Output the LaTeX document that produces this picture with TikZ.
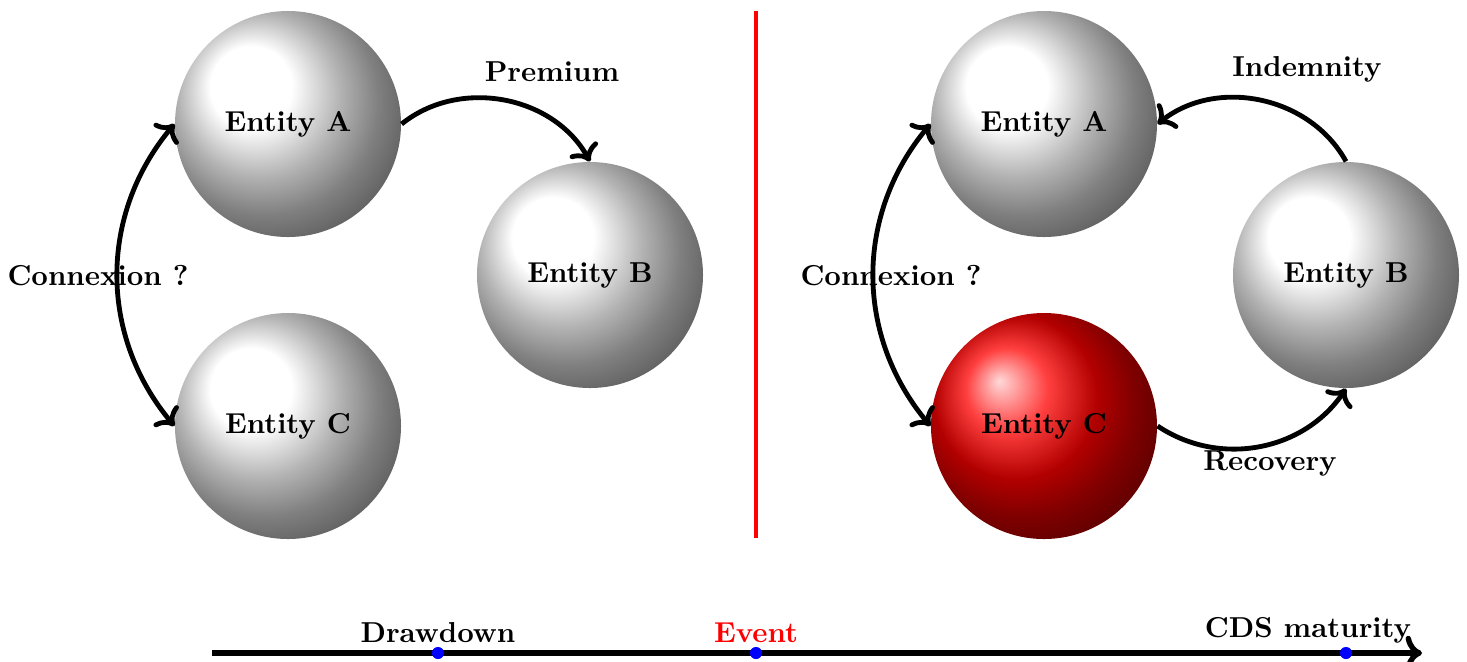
\documentclass[tikz,border=0pt]{standalone}
\usetikzlibrary{arrows.meta}
\begin{document}
\begin{tikzpicture}[x=0.012373cm,y=-0.012373cm,
  every node/.style={font=\fontsize{10.15}{12}\selectfont\bfseries},
  entity/.style={circle,minimum size=2.797cm,inner sep=0pt,shade,ball color=white},
  badentity/.style={entity,ball color=red},
  flow/.style={line width=1.7pt,->},
  both/.style={line width=1.7pt,<->},
  lbl/.style={},
  dot/.style={circle,fill=blue,inner sep=0pt,minimum size=0.15cm},
  sep/.style={red,line width=1.4pt},
  axis/.style={line width=1.9pt,->}]
\useasboundingbox (0,0) rectangle (1467,661);
% left panel
\node[entity] (A1) at (288,124) {Entity A};
\node[entity] (B1) at (590,275) {Entity B};
\node[entity] (C1) at (288,426) {Entity C};
\draw[flow] (A1.east) to[bend left=50] (B1.north);
\draw[both] (A1.west) to[bend right=40] (C1.west);
\node[lbl] (prem) at (552,72) {Premium};
\node[lbl] (con1) at (98,276) {Connexion ?};
% separator
\coordinate (S0) at (756,11);
\coordinate (S1) at (756,538);
\draw[sep] (S0) -- (S1);
% right panel
\node[entity] (A2) at (1044,124) {Entity A};
\node[entity] (B2) at (1346,275) {Entity B};
\node[badentity] (C2) at (1044,426) {Entity C};
\draw[flow] (B2.north) to[bend right=50] (A2.east);
\draw[flow] (C2.east) to[bend right=45] (B2.south);
\draw[both] (A2.west) to[bend right=40] (C2.west);
\node[lbl] (ind) at (1307,69) {Indemnity};
\node[lbl] (rec) at (1270,463) {Recovery};
\node[lbl] (con2) at (891,276) {Connexion ?};
% timeline
\coordinate (T0) at (212,653);
\coordinate (T1) at (1422,653);
\draw[axis] (T0) -- (T1);
\node[dot] (d1) at (438,653) {};
\node[dot] (d2) at (756,653) {};
\node[dot] (d3) at (1346,653) {};
\node[lbl,above] (l1) at (438,653) {Drawdown};
\node[lbl,above,text=red] (l2) at (756,653) {Event};
\node[lbl,above] (l3) at (1308,653) {CDS maturity};
\end{tikzpicture}
\end{document}
